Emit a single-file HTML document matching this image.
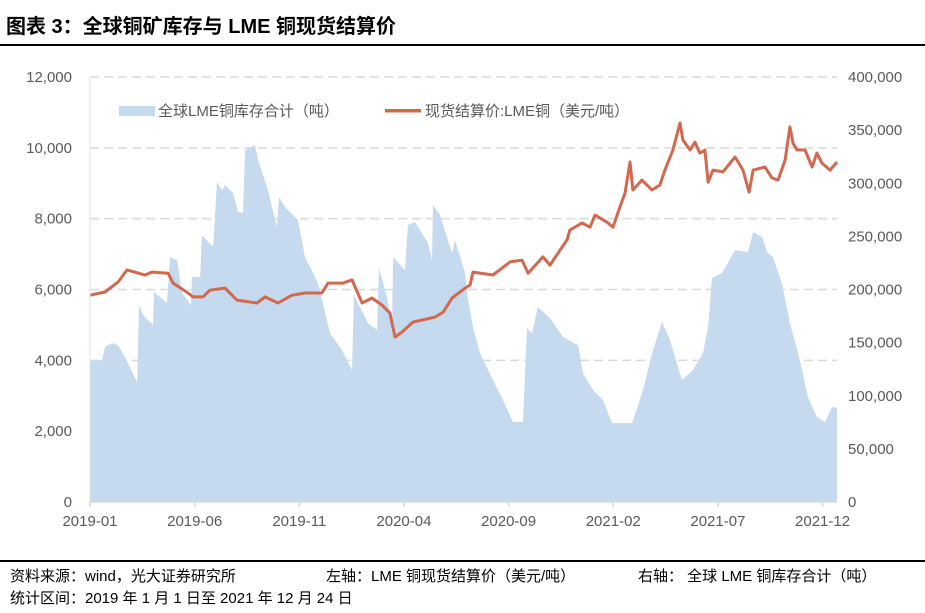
<!DOCTYPE html>
<html><head><meta charset="utf-8"><style>
body{margin:0;background:#fff;width:925px;height:608px;overflow:hidden;font-family:"Liberation Sans","Noto Sans CJK SC",sans-serif;}
</style></head><body>
<svg width="925" height="608" xmlns="http://www.w3.org/2000/svg">
<text x="6" y="33" font-size="20" font-weight="bold" fill="#000" font-family="Liberation Sans, Noto Sans CJK SC, sans-serif">图表 3：全球铜矿库存与 LME 铜现货结算价</text>
<rect x="0" y="44" width="925" height="2" fill="#000"/>
<g id="grid"></g>
<g id="area"></g>
<g id="line"></g>
<g id="axes" font-family="Liberation Sans, Noto Sans CJK SC, sans-serif" font-size="15" fill="#595959"></g>
<g font-family="Liberation Sans, Noto Sans CJK SC, sans-serif" font-size="15" fill="#595959">
<rect x="119" y="106" width="36" height="10" fill="#c5daee"/>
<text x="158" y="116">全球LME铜库存合计（吨）</text>
<rect x="385" y="109" width="36" height="3.5" fill="#d0694f"/>
<text x="425" y="116">现货结算价:LME铜（美元/吨）</text>
</g>
<rect x="0" y="560" width="925" height="2" fill="#000"/>
<g font-family="Liberation Sans, Noto Sans CJK SC, sans-serif" font-size="15" fill="#000">
<text x="10" y="581">资料来源：wind，光大证券研究所</text>
<text x="326" y="581">左轴：LME 铜现货结算价（美元/吨）</text>
<text x="638" y="581">右轴： 全球 LME 铜库存合计（吨）</text>
<text x="10" y="603">统计区间：2019 年 1 月 1 日至 2021 年 12 月 24 日</text>
</g>
</svg>
<script>
const invMonths=[0,0.57,0.72,1.05,1.34,1.67,2.25,2.34,2.53,3.01,3.06,3.68,3.82,4.16,4.40,4.83,4.87,5.26,5.35,5.88,6.07,6.31,6.45,6.83,7.07,7.31,7.41,7.88,8.03,8.46,8.93,9.03,9.32,9.94,10.27,10.89,11.47,12.04,12.52,12.61,13.28,13.71,13.81,14.19,14.43,14.48,15.05,15.19,15.53,16.15,16.34,16.39,16.72,17.30,17.44,17.92,18.01,18.30,18.63,19.25,19.73,20.21,20.69,20.88,21.12,21.40,21.98,22.60,23.32,23.55,24.03,24.51,24.94,25.90,26.42,26.90,27.33,27.71,28.28,28.81,29.29,29.53,29.72,30.20,30.82,31.44,31.68,32.11,32.35,32.63,33.06,33.44,33.92,34.30,34.73,35.12,35.45,35.69];
const invValues=[132000,133600,145900,149600,147700,136400,112900,185400,176000,166600,197600,187300,230500,227700,196700,185400,211700,211700,251200,240000,301100,293600,298300,290800,272900,271900,331200,335900,321800,296400,258800,287000,277600,265400,230500,206100,159000,143000,124200,194800,168400,161900,220200,192900,161900,230500,218300,260700,263500,243700,227700,279500,270100,234300,246500,215500,196700,164700,140200,114800,96000,75300,75300,163700,159000,183500,173100,155300,147700,121400,105400,96000,74300,74300,105400,143000,169400,152400,114800,124200,140200,164700,210800,215500,237100,235300,254100,249400,235300,230500,206100,168400,133600,98800,80000,75300,89400,88500];
const priceMonths=[0,0.72,1.34,1.77,2.63,2.96,3.73,3.97,4.68,4.92,5.40,5.73,6.45,7.02,7.98,8.36,8.98,9.65,10.27,11.08,11.37,12.09,12.52,13.00,13.47,13.95,14.33,14.57,14.91,15.43,16.48,16.87,17.30,17.92,18.16,18.30,19.25,20.07,20.64,20.93,21.64,21.98,22.79,22.93,23.51,23.89,24.13,24.70,24.99,25.32,25.56,25.80,25.94,26.37,26.85,27.23,27.47,27.85,28.19,28.33,28.67,28.90,29.14,29.38,29.53,29.77,30.24,30.82,31.20,31.49,31.68,32.25,32.58,32.87,33.21,33.44,33.59,33.78,34.16,34.50,34.73,34.97,35.36,35.69];
const priceValues=[5840,5930,6210,6550,6410,6490,6460,6180,5900,5790,5790,5980,6040,5700,5620,5790,5620,5840,5900,5900,6180,6180,6270,5620,5760,5560,5340,4660,4800,5080,5220,5360,5760,6040,6130,6490,6410,6780,6830,6460,6920,6690,7400,7680,7880,7760,8100,7900,7760,8330,8720,9600,8810,9090,8810,8950,9370,9940,10700,10220,9940,10160,9850,9940,9030,9370,9320,9740,9370,8750,9370,9460,9150,9090,9650,10590,10130,9940,9940,9460,9850,9570,9370,9600];
const leftTicks=[0,2000,4000,6000,8000,10000,12000];
const rightTicks=[0,50000,100000,150000,200000,250000,300000,350000,400000];
const xTickLabels=["2019-01","2019-06","2019-11","2020-04","2020-09","2021-02","2021-07","2021-12"];
const xTickMonths=[0,5,10,15,20,25,30,35];

const NS="http://www.w3.org/2000/svg";
const X0=90,X1=837,Y0=502,Y1=77;
const xs=m=>X0+m*20.93;
const yl=v=>Y0-(v/12000)*(Y0-Y1);
const yr=v=>Y0-(v/400000)*(Y0-Y1);
function mk(tag,attrs,parent){const e=document.createElementNS(NS,tag);for(const k in attrs)e.setAttribute(k,attrs[k]);parent.appendChild(e);return e;}
const grid=document.getElementById('grid'),axes=document.getElementById('axes');
leftTicks.forEach(t=>{
  if(t>0){const g=mk('line',{x1:X0,x2:X1,y1:yl(t),y2:yl(t),stroke:'#d9d9d9','stroke-width':1.5,'stroke-dasharray':'9,5'},grid);
  
  }
  const tx=mk('text',{x:72,y:yl(t)+5,'text-anchor':'end'},axes);tx.textContent=t.toLocaleString('en-US');
  
  
});
rightTicks.forEach(t=>{
  const tx=mk('text',{x:848,y:yr(t)+5},axes);tx.textContent=t.toLocaleString('en-US');
  
  
});
let d='M'+xs(invMonths[0])+','+Y0;
invMonths.forEach((m,i)=>{d+=' L'+xs(m).toFixed(1)+','+yr(invValues[i]).toFixed(1);});
d+=' L'+xs(invMonths[invMonths.length-1])+','+Y0+' Z';
const ar=mk('path',{d:d,fill:'#c5daee'},document.getElementById('area'));


const ax=mk('line',{x1:X0,x2:X1,y1:Y0,y2:Y0,stroke:'#d9d9d9','stroke-width':1.5},axes);


const vx=mk('line',{x1:X0,x2:X0,y1:Y1,y2:Y0,stroke:'#e3e3e3','stroke-width':1},axes);


xTickMonths.forEach((m,i)=>{
  const tk=mk('line',{x1:xs(m),x2:xs(m),y1:Y0,y2:Y0+5,stroke:'#d9d9d9','stroke-width':1.5},axes);
  
  
  const tx=mk('text',{x:xs(m),y:526,'text-anchor':'middle'},axes);tx.textContent=xTickLabels[i];
  
  
});
const pts=priceMonths.map((m,i)=>xs(m).toFixed(1)+','+yl(priceValues[i]).toFixed(1)).join(' ');
const pl=mk('polyline',{points:pts,fill:'none',stroke:'#d0694f','stroke-width':3,'stroke-linejoin':'round'},document.getElementById('line'));


</script>
</body></html>
